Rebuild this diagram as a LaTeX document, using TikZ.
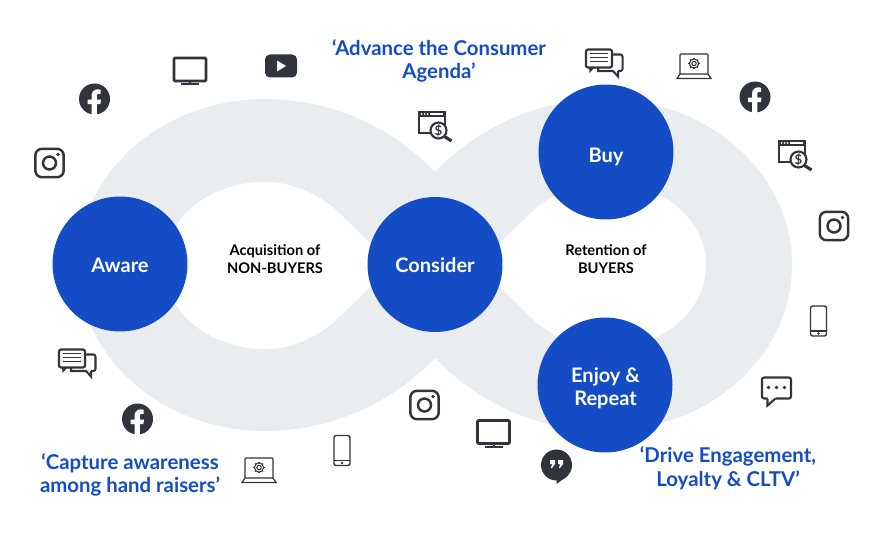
\documentclass[tikz,border=0pt]{standalone}
\usepackage{fontspec}
\setmainfont{Lato}
\definecolor{stageblue}{HTML}{134CC4}
\definecolor{bandgray}{HTML}{EAEDF0}
\definecolor{icondark}{HTML}{31343A}
\tikzset{
    fbicon/.pic={
        \fill[icondark] (0,0) circle (15.5);
        \fill[white] (-3,15.8) -- (-3,5) -- (-7,5) -- (-7,0.5) -- (-3,0.5) -- (-3,-3)
            .. controls (-3,-7.5) and (0,-9.7) .. (3.5,-9.7) -- (6,-9.3) -- (6,-5.2) -- (4,-5.2)
            .. controls (2.7,-5.2) and (2.3,-4.2) .. (2.3,-3) -- (2.3,0.5) -- (6.6,0.5)
            -- (5.8,5) -- (2.3,5) -- (2.3,15.8) -- cycle;
    },
    tvicon/.pic={
        \draw[icondark, line width=1.5pt, rounded corners=0.6pt] (-16,-13) rectangle (16,10);
        \fill[icondark] (-9,12) rectangle (9,14);
        \fill[icondark] (-1,10) rectangle (1,12);
    },
    ytubeicon/.pic={
        \fill[icondark, rounded corners=2.8pt] (-16,-11.5) rectangle (16,11.5);
        \fill[white] (-4,-5.5) -- (5,0) -- (-4,5.5) -- cycle;
    },
    instaicon/.pic={
        \draw[icondark, line width=1.4pt, rounded corners=3.8pt] (-14.2,-14.2) rectangle (14.2,14.2);
        \draw[icondark, line width=1.4pt] (0,0) circle (6.5);
        \fill[icondark] (8.5,-8.5) circle (1.8);
    },
    searchicon/.pic={
        \draw[icondark, line width=0.95pt] (-16,-14) rectangle (10,7);
        \fill[icondark] (-16,-14.5) rectangle (10,-9.5);
        \foreach \dotx in {-13.5,-10.5,-7.5}
            \fill[white] (\dotx,-12) circle (1);
        \fill[white] (-5,-12.6) rectangle (8,-11.4);
        \draw[icondark, line width=1.2pt, fill=white] (3.5,4.5) circle (8);
        \draw[icondark, line width=1.8pt] (9.5,10.5) -- (16.5,15);
        \node[icondark, font=\fontsize{7.5}{7.5}\selectfont\bfseries, inner sep=0] (dollar) at (3.5,4.5) {\$};
    },
    chaticon/.pic={
        \draw[icondark, line width=1.25pt, rounded corners=1.2pt] (-18,-13.5) rectangle (8,4.5);
        \fill[icondark] (-15,4) -- (-14.5,10) -- (-9,4) -- cycle;
        \draw[icondark, line width=1.15pt, rounded corners=1.2pt] (8,-8.5) -- (18.5,-8.5) -- (18.5,8) -- (14,8);
        \draw[icondark, line width=1.15pt] (14,8) -- (14,13.5) -- (9,8) -- (-6,8) -- (-6,4.5);
        \foreach \liney in {-9.5,-5.5,-1.5}
            \draw[icondark, line width=1pt] (-14,\liney) -- (4,\liney);
    },
    laptopicon/.pic={
        \draw[icondark, line width=0.7pt, rounded corners=0.6pt] (-14,8) -- (-14,-12) -- (14,-12) -- (14,8);
        \draw[icondark, line width=0.7pt] (-14,8) -- (14,8) -- (17,12.5) -- (-17,12.5) -- cycle;
        \draw[icondark, line width=0.6pt] (0,-2.5) circle (2.2);
        \draw[icondark, line width=0.6pt] (0,-2.5) circle (4.6);
        \foreach \tooth in {0,45,...,315}
            \draw[icondark, line width=0.6pt, shift={(0,-2.5)}] (\tooth:4.6) -- (\tooth:5.8);
    },
    phoneicon/.pic={
        \draw[icondark, line width=0.8pt, rounded corners=1.2pt] (-8,-15) rectangle (8,15);
        \draw[icondark, line width=0.8pt] (-8,10) -- (8,10);
        \fill[icondark] (0,12.5) circle (1.4);
    },
    bubbleicon/.pic={
        \draw[icondark, line width=1.2pt, rounded corners=1.2pt] (-1,7.5) -- (14.5,7.5) -- (14.5,-13.5)
            -- (-14.5,-13.5) -- (-14.5,7.5) -- (-9,7.5);
        \draw[icondark, line width=1.2pt] (-9,7.5) -- (-9,14.5) -- (-1,7.5);
        \foreach \dotx in {-8,0,8}
            \fill[icondark] (\dotx,-3.5) circle (1.9);
    },
    hangouticon/.pic={
        \fill[icondark] (0,0) circle (15.5);
        \fill[icondark] (0,12) -- (0,19) -- (11,11) -- cycle;
        \foreach \markx in {-6.5,1.5}
            \fill[white] (\markx,-5) -- (\markx+5,-5) -- (\markx+5,-1) -- (\markx+2,3) -- (\markx+1,3) -- (\markx+2,-1) -- (\markx,-1) -- cycle;
    },
}
\begin{document}
\begin{tikzpicture}[
        x=0.02cm, y=-0.02cm,
        stagecircle/.style={circle, fill=stageblue, minimum size=2.7cm, inner sep=0},
        stagelabel/.style={text=white, align=center, inner sep=0, font=\fontsize{11.4}{13}\selectfont\bfseries},
        quotelabel/.style={text=stageblue, align=center, inner sep=0, font=\fontsize{11.6}{13.5}\selectfont\bfseries},
        hololabel/.style={text=black, align=center, inner sep=0, font=\fontsize{8.35}{10.2}\selectfont\bfseries},
    ]
    \useasboundingbox (0,0) rectangle (881,537);

    % --- Band ---
    \fill[bandgray, even odd rule] (435,172)
        .. controls (395,130) and (335,99) .. (265,99)
        .. controls (162,99) and (78,173) .. (78,265)
        .. controls (78,357) and (162,431) .. (265,431)
        .. controls (335,431) and (395,400) .. (435,358)
        .. controls (475,400) and (535,431) .. (605,431)
        .. controls (708,431) and (792,357) .. (792,265)
        .. controls (792,173) and (708,99) .. (605,99)
        .. controls (535,99) and (475,130) .. (435,172) -- cycle
        % left hole
        (393,265) -- (333,207)
        .. controls (312,191) and (290,182) .. (265,182)
        .. controls (208,182) and (164,219) .. (164,265)
        .. controls (164,311) and (208,349) .. (265,349)
        .. controls (290,349) and (312,340) .. (333,323) -- cycle
        % right hole
        (477,265) -- (537,207)
        .. controls (558,191) and (580,182) .. (605,182)
        .. controls (662,182) and (706,219) .. (706,265)
        .. controls (706,311) and (662,349) .. (605,349)
        .. controls (580,349) and (558,340) .. (537,323) -- cycle;

    % --- Stages ---
    \node[stagecircle] (aware) at (120,264) {};
    \node[stagecircle] (consider) at (435,264.5) {};
    \node[stagecircle] (buy) at (606,152) {};
    \node[stagecircle] (enjoy) at (605,385) {};
    \node[stagelabel] (awaretext) at (120,265.5) {Aware};
    \node[stagelabel] (considertext) at (435,265.5) {Consider};
    \node[stagelabel] (buytext) at (606,156.5) {Buy};
    \node[stagelabel] (enjoytext) at (605.5,388.5) {Enjoy \&\\Repeat};

    % --- Labels ---
    \node[hololabel] (acquisition) at (275,259) {Acquisition of\\NON-BUYERS};
    \node[hololabel] (retention) at (606,259) {Retention of\\BUYERS};
    \node[quotelabel] (agenda) at (439,61) {‘Advance the Consumer\\Agenda’};
    \node[quotelabel] (capture) at (130,475) {‘Capture awareness\\among hand raisers’};
    \node[quotelabel] (engage) at (728,468) {‘Drive Engagement,\\Loyalty \& CLTV’};

    % --- Icons ---
    \foreach \px/\py in {94.5/99, 755/97, 137.5/419}
        \pic at (\px,\py) {fbicon};
    \foreach \px/\py in {49.5/163, 834/226, 424.5/405}
        \pic at (\px,\py) {instaicon};
    \foreach \px/\py in {190/71, 493.5/433.5}
        \pic at (\px,\py) {tvicon};
    \foreach \px/\py in {435/126, 795/155}
        \pic at (\px,\py) {searchicon};
    \foreach \px/\py in {604/63, 77/363}
        \pic at (\px,\py) {chaticon};
    \foreach \px/\py in {694/66, 259/470}
        \pic at (\px,\py) {laptopicon};
    \foreach \px/\py in {818.5/321, 342/450.5}
        \pic at (\px,\py) {phoneicon};
    \pic at (281,66) {ytubeicon};
    \pic at (776.5,391) {bubbleicon};
    \pic at (556.5,465) {hangouticon};
\end{tikzpicture}
\end{document}
